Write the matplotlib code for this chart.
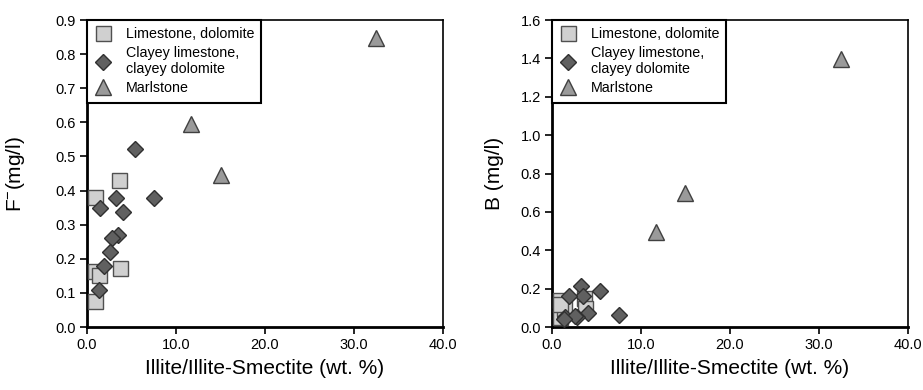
import numpy as np
import matplotlib.pyplot as plt

plt.rcParams['font.family'] = ['Liberation Sans', 'DejaVu Sans']
plt.rcParams['mathtext.fontset'] = 'custom'
plt.rcParams['mathtext.rm'] = 'Liberation Sans'
plt.rcParams['mathtext.it'] = 'Liberation Sans'

# Illite/Illite-Smectite (wt. %) for each rock type
lime_x = [0.86, 3.58, 3.73, 0.93, 1.34, 0.86]
clay_x = [1.49, 3.28, 4.03, 3.47, 2.80, 2.60, 1.90, 1.34, 7.57, 5.37]
marl_x = [11.7, 15.0, 32.5]

# F- (mg/l)
lime_f = [0.381, 0.430, 0.172, 0.164, 0.152, 0.077]
clay_f = [0.350, 0.377, 0.337, 0.270, 0.262, 0.220, 0.178, 0.110, 0.379, 0.523]
marl_f = [0.596, 0.446, 0.848]

# B (mg/l)
lime_b = [0.142, 0.150, 0.100, 0.054, 0.100, 0.120]
clay_b = [0.050, 0.215, 0.073, 0.163, 0.050, 0.060, 0.163, 0.040, 0.062, 0.190]
marl_b = [0.496, 0.700, 1.395]

labels = ['Limestone, dolomite', 'Clayey limestone,\nclayey dolomite', 'Marlstone']
xticks = [0, 10, 20, 30, 40]

fig = plt.figure(figsize=(9.23, 3.9), dpi=100)
ax1 = fig.add_axes([0.0943, 0.1615, 0.3857, 0.787])
ax2 = fig.add_axes([0.598, 0.1615, 0.3857, 0.787])


def draw(ax, ly, cy, my, ylim, yticks, ylabel, ylab_x):
    ax.plot(lime_x, ly, 's', ms=10.8, mfc='#d0d0d0', mec='#505050', mew=1.0,
            label=labels[0], clip_on=False, zorder=3)
    ax.plot(clay_x, cy, 'D', ms=8.2, mfc='#606060', mec='#303030', mew=1.0,
            label=labels[1], clip_on=False, zorder=4)
    ax.plot(marl_x, my, '^', ms=11, mfc='#9a9a9a', mec='#404040', mew=1.0,
            label=labels[2], clip_on=False, zorder=3)
    ax.set_xlim(0, 40)
    ax.set_ylim(*ylim)
    ax.set_xticks(xticks)
    ax.set_xticklabels(['%.1f' % t for t in xticks])
    ax.set_yticks(yticks)
    ax.set_yticklabels(['%.1f' % t for t in yticks])
    ax.tick_params(direction='out', length=5, width=1.2, labelsize=10.5, pad=3)
    for s in ['left', 'bottom']:
        ax.spines[s].set_linewidth(2.0)
    for s in ['top', 'right']:
        ax.spines[s].set_linewidth(1.2)
    ax.set_xlabel('Illite/Illite-Smectite (wt. %)', fontsize=15)
    ax.set_ylabel(ylabel, fontsize=15)
    ax.xaxis.set_label_coords(0.5, -0.105)
    ax.yaxis.set_label_coords(ylab_x, 0.5)
    leg = ax.legend(loc='upper left', bbox_to_anchor=(0, 1), borderaxespad=0,
                    fancybox=False, edgecolor='black', framealpha=1,
                    fontsize=10.3, handletextpad=1.0, labelspacing=0.35,
                    borderpad=0.5, handlelength=1.2, markerscale=1.0)
    leg.get_frame().set_linewidth(1.5)


draw(ax1, lime_f, clay_f, marl_f, (0, 0.9), np.arange(0, 0.91, 0.1),
     'F$^{-}$(mg/l)', -0.17)
draw(ax2, lime_b, clay_b, marl_b, (0, 1.6), np.arange(0, 1.61, 0.2),
     'B (mg/l)', -0.135)

fig.savefig('out.png', dpi=100)
